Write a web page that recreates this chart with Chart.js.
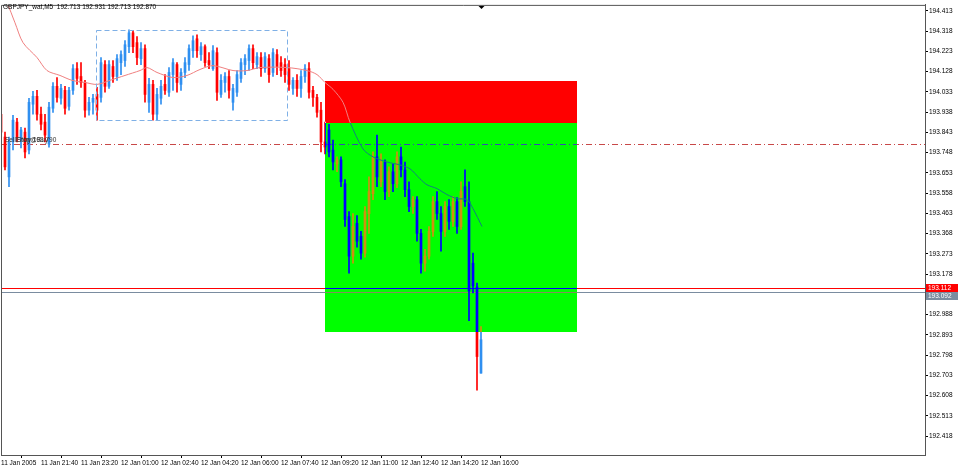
<!DOCTYPE html>
<html>
<head>
<meta charset="utf-8">
<script src="https://cdn.jsdelivr.net/npm/chart.js@4/dist/chart.umd.min.js"></script>
<style>
  html, body { margin: 0; padding: 0; background: #fff; overflow: hidden; }
  canvas { display: block; }
</style>
</head>
<body>
<canvas id="chart" width="960" height="469"></canvas>
<script>
// GBPJPY M5 candles (bar index 0..120)
const opens = [193.928,193.821,193.634,193.798,193.891,193.807,193.844,193.760,193.975,194.012,
193.928,193.891,193.788,193.956,194.059,194.003,194.040,193.965,194.040,194.142,
194.105,194.077,193.947,193.984,194.021,194.007,194.161,194.059,194.152,194.105,
194.170,194.180,194.245,194.310,194.264,194.189,194.236,193.984,194.068,193.928,
194.003,194.068,194.031,194.114,194.161,194.068,194.124,194.161,194.226,194.282,
194.208,194.245,194.180,194.142,194.217,194.021,194.077,194.105,193.984,194.031,
194.096,194.161,194.180,194.236,194.161,194.194,194.142,194.189,194.124,194.208,
194.170,194.161,194.142,194.049,194.087,194.049,194.105,194.142,194.040,194.007,
193.947,193.798,193.854,193.760,193.695,193.714,193.602,193.448,193.262,193.416,
193.355,193.276,193.462,193.555,193.728,193.611,193.704,193.565,193.658,193.602,
193.728,193.667,193.574,193.495,193.527,193.369,193.229,193.262,193.378,193.518,
193.462,193.378,193.495,193.425,193.518,193.401,193.588,193.518,193.229,193.117,
192.713];
const highs = [193.937,193.844,193.821,193.923,193.909,193.867,193.863,194.003,194.035,194.040,
193.961,193.928,193.984,194.077,194.100,194.068,194.059,194.054,194.161,194.170,
194.170,194.087,194.007,194.021,194.054,194.194,194.180,194.180,194.180,194.208,
194.226,194.273,194.324,194.320,194.292,194.264,194.254,194.096,194.087,194.049,
194.087,194.114,194.147,194.189,194.170,194.142,194.194,194.254,194.296,194.301,
194.264,194.254,194.217,194.250,194.240,194.114,194.124,194.133,194.068,194.133,
194.189,194.208,194.254,194.254,194.217,194.217,194.217,194.208,194.236,194.231,
194.198,194.189,194.180,194.100,194.114,194.133,194.161,194.170,194.059,194.021,
193.984,193.891,193.881,193.807,193.728,193.728,193.621,193.471,193.462,193.453,
193.378,193.495,193.634,193.751,193.830,193.742,193.714,193.681,193.695,193.751,
193.774,193.704,193.611,193.541,193.541,193.388,193.294,193.401,193.541,193.565,
193.495,193.518,193.527,193.541,193.537,193.611,193.667,193.611,193.276,193.136,
192.931];
const lows = [193.835,193.667,193.588,193.760,193.798,193.770,193.723,193.742,193.928,193.900,
193.854,193.798,193.774,193.937,193.984,193.975,193.928,193.947,194.021,194.068,
194.054,193.914,193.923,193.928,193.900,193.984,194.031,194.049,194.077,194.087,
194.114,194.152,194.217,194.217,194.161,194.161,193.984,193.937,193.900,193.900,
193.975,194.021,194.012,194.040,194.031,194.040,194.100,194.133,194.194,194.194,
194.180,194.152,194.142,194.133,193.993,194.007,194.031,194.003,193.947,194.012,
194.077,194.114,194.133,194.142,194.142,194.105,194.124,194.077,194.105,194.114,
194.105,194.077,194.040,194.021,194.012,194.007,194.077,194.003,193.965,193.914,
193.751,193.742,193.728,193.667,193.658,193.588,193.401,193.182,193.229,193.304,
193.248,193.257,193.369,193.527,193.588,193.588,193.527,193.541,193.565,193.583,
193.634,193.541,193.471,193.462,193.332,193.182,193.192,193.248,193.355,193.434,
193.285,193.355,193.388,193.401,193.369,193.388,193.495,192.959,193.089,192.633,
192.713];
const closes = [193.844,193.681,193.798,193.900,193.821,193.854,193.751,193.984,194.012,193.928,
193.881,193.830,193.961,194.059,194.007,194.049,193.956,194.040,194.142,194.096,
194.077,193.947,193.984,194.003,193.947,194.170,194.059,194.161,194.105,194.189,
194.208,194.254,194.310,194.245,194.194,194.236,194.021,194.068,193.928,194.021,
194.059,194.040,194.124,194.170,194.077,194.124,194.170,194.236,194.273,194.226,
194.245,194.170,194.161,194.226,194.031,194.087,194.105,194.040,194.049,194.114,
194.170,194.189,194.236,194.170,194.198,194.142,194.198,194.114,194.217,194.152,
194.133,194.114,194.068,194.087,194.049,194.105,194.142,194.031,194.007,193.937,
193.798,193.774,193.751,193.704,193.714,193.611,193.434,193.262,193.401,193.332,
193.276,193.471,193.565,193.728,193.634,193.704,193.565,193.658,193.602,193.728,
193.667,193.574,193.495,193.527,193.369,193.229,193.262,193.378,193.518,193.462,
193.378,193.495,193.425,193.518,193.401,193.565,193.518,193.099,193.122,192.791,
192.870];

// moving average, sampled along the drawn line
const maBars = [0, 1.5, 3.5, 5.5, 9, 11.5, 14.75, 17.75, 21, 24, 27.25, 31, 34.75, 36.5, 39, 43, 46.5,
  49.75, 53, 58, 61.5, 64.75, 71.5, 76.5, 79, 81, 83, 85.5, 87.25, 90.5, 93, 96.5, 99.75, 102.25,
  104.75, 106.5, 109, 111.5, 114, 116.5, 118, 120.25];
const maValues = [194.49, 194.450, 194.357, 194.264, 194.194, 194.133, 194.110, 194.087, 194.077, 194.068,
  194.087, 194.110, 194.133, 194.147, 194.124, 194.100, 194.110, 194.138, 194.156, 194.133, 194.133,
  194.147, 194.147, 194.133, 194.114, 194.077, 194.045, 193.984, 193.891, 193.765, 193.728, 193.704,
  193.690, 193.672, 193.625, 193.597, 193.579, 193.551, 193.532, 193.527, 193.485, 193.401];

const timeLabels = ['11 Jan 2005', '11 Jan 21:40', '11 Jan 23:20', '12 Jan 01:00', '12 Jan 02:40',
  '12 Jan 04:20', '12 Jan 06:00', '12 Jan 07:40', '12 Jan 09:20', '12 Jan 11:00', '12 Jan 12:40',
  '12 Jan 14:20', '12 Jan 16:00'];
const priceTicks = ['194.413', '194.318', '194.223', '194.128', '194.033', '193.938', '193.843',
  '193.748', '193.653', '193.558', '193.463', '193.368', '193.273', '193.178', '192.988', '192.893',
  '192.798', '192.703', '192.608', '192.513', '192.418'];

const titleText = 'GBPJPY_wat,M5  192.713 192.931 192.713 192.870';
const entryPrice = 193.790;
const bidPrice = 193.112;
const askPrice = 193.092;
// trade zone rectangle: bars and prices
const zoneBars = [81, 144];
const zoneStop = 194.082;
const zoneEntry = 193.886;
const zoneTarget = 192.908;
// dashed range box
const rangeBars = [23.75, 71.5];
const rangePrices = [194.324, 193.900];
const BARS_PER_LABEL = 10;

const BULL = '#2f8ff0';
const BEAR = '#ff0000';
const FONT = { family: 'Liberation Sans, Arial, sans-serif', size: 6.5 };

const isBull = (i) => closes[i] >= opens[i];
const bodies = opens.map((o, i) => ({ x: i, y: [Math.min(o, closes[i]), Math.max(o, closes[i])] }));
const wicks = lows.map((l, i) => ({ x: i, y: [l, highs[i]] }));
const maPoints = maBars.map((b, i) => ({ x: b, y: maValues[i] }));
const candleColor = (ctx) => isBull(ctx.dataIndex) ? BULL : BEAR;

const hLine = (ctx, area, py, color, dash) => {
    const yy = Math.round(py) + 0.5;
    ctx.strokeStyle = color;
    ctx.lineWidth = 1;
    ctx.setLineDash(dash);
    ctx.beginPath();
    ctx.moveTo(area.left, yy);
    ctx.lineTo(area.right, yy);
    ctx.stroke();
    ctx.setLineDash([]);
};

const priceTag = (ctx, area, top, text, bg) => {
    ctx.fillStyle = bg;
    ctx.fillRect(area.right + 1, top, 32, 8);
    ctx.fillStyle = '#fff';
    ctx.font = `${FONT.size}px ${FONT.family}`;
    ctx.textBaseline = 'middle';
    ctx.textAlign = 'left';
    ctx.fillText(text, area.right + 3, top + 4.5);
};

const mt4Overlay = {
    id: 'mt4Overlay',
    beforeDraw(chart) {
        const { ctx, width, height } = chart;
        ctx.save();
        ctx.fillStyle = '#fff';
        ctx.fillRect(0, 0, width, height);
        ctx.restore();
    },
    beforeDatasetsDraw(chart) {
        const { ctx, chartArea: a, scales: { y } } = chart;
        ctx.save();
        hLine(ctx, a, y.getPixelForValue(entryPrice), '#c84848', [6, 3, 1, 3]);
        hLine(ctx, a, y.getPixelForValue(bidPrice), '#ff0000', []);
        hLine(ctx, a, y.getPixelForValue(askPrice), '#7a8ca0', []);
        ctx.restore();
    },
    afterDatasetsDraw(chart) {
        const { ctx, scales: { x, y } } = chart;
        const x0 = Math.round(x.getPixelForValue(zoneBars[0]));
        const x1 = Math.round(x.getPixelForValue(zoneBars[1]));
        const yStop = Math.round(y.getPixelForValue(zoneStop));
        const yEntry = Math.round(y.getPixelForValue(zoneEntry));
        const yTarget = Math.round(y.getPixelForValue(zoneTarget));
        ctx.save();
        // MT4 background objects are drawn as XOR over the chart
        ctx.globalCompositeOperation = 'difference';
        ctx.fillStyle = '#00ffff';
        ctx.fillRect(x0, yStop, x1 - x0, yEntry - yStop);
        ctx.fillStyle = '#ff00ff';
        ctx.fillRect(x0, yEntry, x1 - x0, yTarget - yEntry);
        ctx.globalCompositeOperation = 'source-over';

        // dashed range box
        const rx0 = Math.round(x.getPixelForValue(rangeBars[0])) + 0.5;
        const rx1 = Math.round(x.getPixelForValue(rangeBars[1])) + 0.5;
        const ry0 = Math.round(y.getPixelForValue(rangePrices[0])) + 0.5;
        const ry1 = Math.round(y.getPixelForValue(rangePrices[1])) + 0.5;
        ctx.strokeStyle = '#7fb0e6';
        ctx.lineWidth = 1;
        ctx.setLineDash([5, 3]);
        ctx.strokeRect(rx0, ry0, rx1 - rx0, ry1 - ry0);
        ctx.restore();
    },
    afterDraw(chart) {
        const { ctx, chartArea: a, scales: { x, y } } = chart;
        ctx.save();
        // frame top / left
        ctx.strokeStyle = '#555';
        ctx.lineWidth = 1;
        ctx.beginPath();
        ctx.moveTo(a.left + 0.5, a.bottom);
        ctx.lineTo(a.left + 0.5, a.top + 0.5);
        ctx.lineTo(a.right, a.top + 0.5);
        ctx.stroke();

        ctx.font = `${FONT.size}px ${FONT.family}`;
        ctx.fillStyle = '#000';
        ctx.textBaseline = 'middle';
        ctx.textAlign = 'left';
        ctx.fillText(titleText, 3, 7);

        // overlapping object labels on the entry line
        const ey = y.getPixelForValue(entryPrice);
        ctx.fillStyle = '#333';
        ctx.fillText('SellEntry 193.790', 5, ey - 3.5);
        ctx.fillText('Stop@Buy', 17, ey - 3.5);

        // chart shift marker
        const sx = Math.round(x.getPixelForValue(opens.length - 1)) + 0.5;
        ctx.fillStyle = '#000';
        ctx.beginPath();
        ctx.moveTo(sx - 3, a.top + 1);
        ctx.lineTo(sx + 3, a.top + 1);
        ctx.lineTo(sx, a.top + 4);
        ctx.closePath();
        ctx.fill();

        // bid / ask price tags
        const redTop = Math.round(y.getPixelForValue(bidPrice)) - 4;
        priceTag(ctx, a, redTop, bidPrice.toFixed(3), '#ff0000');
        priceTag(ctx, a, redTop + 8, askPrice.toFixed(3), '#7a8ca0');
        ctx.restore();
    }
};

new Chart(document.getElementById('chart'), {
    type: 'bar',
    data: {
        datasets: [
            {
                type: 'line',
                label: 'MA',
                data: maPoints,
                borderColor: '#f08080',
                borderWidth: 1,
                pointRadius: 0,
                tension: 0.3
            },
            {
                label: 'bodies',
                data: bodies,
                backgroundColor: candleColor,
                barThickness: 2,
                grouped: false
            },
            {
                label: 'wicks',
                data: wicks,
                backgroundColor: candleColor,
                barThickness: 1,
                grouped: false
            }
        ]
    },
    options: {
        responsive: false,
        animation: false,
        devicePixelRatio: 1,
        layout: { padding: { left: 1, top: 2, right: 0, bottom: 0 } },
        plugins: {
            legend: { display: false },
            tooltip: { enabled: false }
        },
        scales: {
            x: {
                type: 'linear',
                min: 0,
                max: 231,
                offset: false,
                afterBuildTicks: (scale) => {
                    scale.ticks = timeLabels.map((_, k) => ({ value: k * BARS_PER_LABEL }));
                },
                afterFit: (scale) => { scale.height = 14; },
                ticks: {
                    autoSkip: false,
                    maxRotation: 0,
                    align: 'start',
                    padding: 1,
                    color: '#000',
                    font: FONT,
                    callback: (v) => timeLabels[Math.round(v / BARS_PER_LABEL)]
                },
                grid: { drawOnChartArea: false, drawTicks: true, tickLength: 3, color: '#000' },
                border: { display: true, color: '#555' }
            },
            y: {
                position: 'right',
                min: 192.329,
                max: 194.441,
                afterBuildTicks: (scale) => {
                    scale.ticks = priceTicks.map((t) => ({ value: parseFloat(t) }));
                },
                afterFit: (scale) => { scale.width = 35; },
                ticks: {
                    autoSkip: false,
                    padding: 1,
                    color: '#000',
                    font: FONT,
                    callback: (v) => v.toFixed(3)
                },
                grid: { drawOnChartArea: false, drawTicks: true, tickLength: 3, color: '#000' },
                border: { display: true, color: '#555' }
            }
        }
    },
    plugins: [mt4Overlay]
});
</script>
</body>
</html>
